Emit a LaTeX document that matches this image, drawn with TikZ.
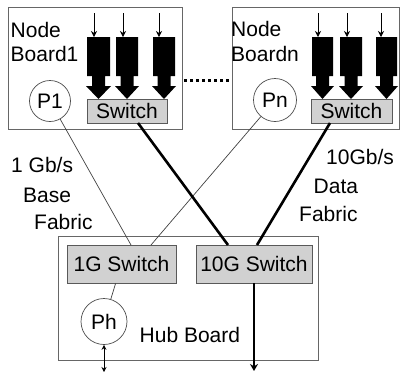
\documentclass[tikz,border=0pt]{standalone}
\usepackage{fontspec}
\setmainfont{Liberation Sans}
\usetikzlibrary{arrows.meta}
\begin{document}
\begin{tikzpicture}[x=1pt,y=-1pt,
  every node/.style={font=\fontsize{21}{25}\selectfont, inner sep=0pt},
  board/.style={draw=black!60, line width=0.9pt},
  sw/.style={draw=black!65, fill=black!18, line width=0.9pt},
  proc/.style={circle, draw=black!70, line width=0.7pt},
  lbl/.style={anchor=base west},
  thinlink/.style={draw=black!75, line width=0.7pt},
  thicklink/.style={draw=black, line width=2.6pt}]
\useasboundingbox (0,0) rectangle (402,373);

% boards
\node[board, minimum width=174pt, minimum height=122pt] (b1) at (95,68) {};
\node[board, minimum width=167pt, minimum height=122pt] (bn) at (315.5,68) {};
\node[board, minimum width=260pt, minimum height=124pt] (hub) at (188,298) {};

% board labels
\node[lbl] (t1a) at (10.5,37) {Node};
\node[lbl] (t1b) at (10.5,61) {Board1};
\node[lbl] (tna) at (231,36.5) {Node};
\node[lbl] (tnb) at (231,61) {Boardn};
\node[lbl] (thub) at (139.5,342) {Hub Board};

% switches
\node[sw, minimum width=80pt, minimum height=24pt] (s1) at (127,111) {Switch};
\node[sw, minimum width=81pt, minimum height=24pt] (sn) at (351.5,111) {Switch};
\node[sw, minimum width=109pt, minimum height=38pt] (g1) at (121.5,264) {1G Switch};
\node[sw, minimum width=116pt, minimum height=38pt] (g10) at (254,264) {10G Switch};

% processors
\node[proc, minimum size=41pt] (p1) at (50,101) {P1};
\node[proc, minimum size=43pt] (pn) at (275,100) {Pn};
\node[proc, minimum size=46pt] (ph) at (104,321.5) {Ph};

% block arrows into the switches
\foreach \a/\b/\t in {87/110/94, 116/138/123, 153/175/159, 312/333/318, 340/362/347, 376/397/381}{
  \pgfmathsetmacro\c{(\a+\b)/2}
  \fill (\a,37) -- (\b,37) -- (\b,76) -- (\c+6.5,76) -- (\c+6.5,86) -- (\b+1,86)
        -- (\c,99) -- (\a-1,86) -- (\c-6.5,86) -- (\c-6.5,76) -- (\a,76) -- cycle;
  \draw[line width=0.8pt, -{Stealth[length=6pt,width=6pt]}] (\t,13) -- (\t,37);
}

% dotted ellipsis between boards
\draw[line width=3pt, dash pattern=on 3pt off 3pt, shorten <=2pt]
  ([yshift=-12pt]b1.east) -- ([yshift=-12pt]bn.west);

% connection points
\coordinate (g1a) at (131,245);
\coordinate (g1b) at (151,245);
\coordinate (s1b) at (138,123);
\coordinate (snb) at (330,123);
\coordinate (g10a) at (228,245);
\coordinate (g10b) at (257,245);
\coordinate (phend) at (104,372);
\coordinate (g10end) at (254,371);

% links
\draw[thinlink] (p1) -- (g1a);
\draw[thinlink] (pn) -- (g1b);
\draw[thicklink] (s1b) -- (g10a);
\draw[thicklink] (snb) -- (g10b);
\draw[thinlink] (g1) -- (ph);

\draw[line width=0.9pt, {Stealth[length=5pt,width=5pt]}-{Stealth[length=5pt,width=5pt]}] (ph) -- (phend);
\draw[thicklink, -{Stealth[length=7pt,width=8pt]}] (g10) -- (g10end);

% fabric labels
\node[lbl] (l1) at (11,172) {1 Gb/s};
\node[lbl] (l2) at (23,202) {Base};
\node[lbl] (l3) at (34,229) {Fabric};
\node[lbl] (r1) at (326,164) {10Gb/s};
\node[lbl] (r2) at (313.5,193) {Data};
\node[lbl] (r3) at (299,221) {Fabric};
\end{tikzpicture}
\end{document}
